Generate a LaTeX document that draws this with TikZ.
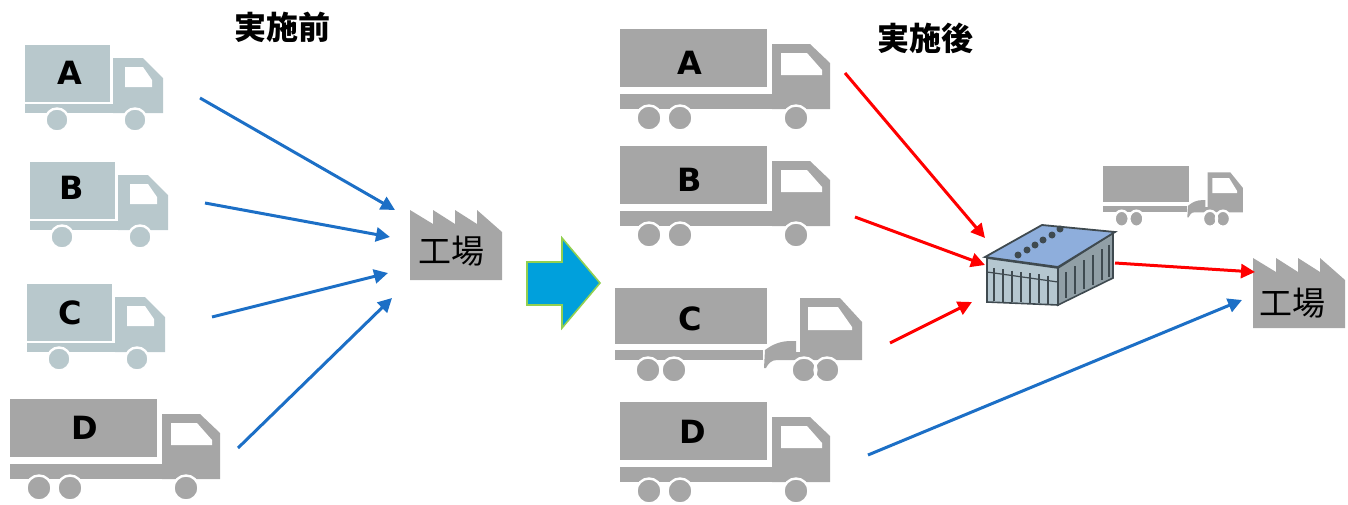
\documentclass[tikz,border=0pt]{standalone}
\usepackage{fontspec}
\setmainfont{DejaVu Sans}
\newfontfamily\jpfont{Noto Sans CJK JP}
\usetikzlibrary{arrows.meta,positioning}
\definecolor{vangray}{HTML}{B8C8CC}
\definecolor{lorrygray}{HTML}{A6A6A6}
\definecolor{flowblue}{HTML}{1C6FC6}
\definecolor{flowred}{HTML}{FF0000}
\definecolor{bigarrow}{HTML}{00A0DC}
\definecolor{bigarrowedge}{HTML}{92D050}
\definecolor{roofblue}{HTML}{8EAEDC}
\definecolor{wallgray}{HTML}{B5C7D0}
\definecolor{walldark}{HTML}{3F4A50}

\tikzset{
  wheel/.style={draw=white, line width=1.2pt},
  % small delivery van
  van/.pic={
    \fill[vangray] (0,0) rectangle (85,57);
    \fill[vangray] (0,59) rectangle (138,68);
    \fill[vangray] (88,13) -- (118,13) -- (138,33) -- (138,68) -- (88,68) -- cycle;
    \fill[white] (100,22) -- (118,22) -- (127,35) -- (127,42) -- (100,42) -- cycle;
    \fill[vangray, wheel] (32,75) circle (11.5) (110,75) circle (11.5);
  },
  % large rigid truck
  lorry/.pic={
    \fill[lorrygray] (0,0) rectangle (147,58);
    \fill[lorrygray] (0,65) rectangle (210,80);
    \fill[lorrygray] (152,15) -- (190,15) -- (210,34) -- (210,80) -- (152,80) -- cycle;
    \fill[white] (161,24) -- (187,24) -- (202,41) -- (202,46) -- (161,46) -- cycle;
    \fill[lorrygray, wheel] (29,89) circle (12.5) (60,89) circle (12.5) (176,89) circle (12.5);
  },
  % tractor with semi-trailer
  tractor/.pic={
    \fill[lorrygray] (0,0) rectangle (152,56);
    \fill[lorrygray] (0,62) rectangle (148,72);
    \fill[lorrygray] (150,62) .. controls (158,56) and (166,53) .. (176,53) -- (181,53)
      -- (181,64) -- (186,64) -- (186,72) -- (162,72) .. controls (156,72) and (153,76) .. (151,80)
      -- (149,80) -- cycle;
    \fill[lorrygray] (185,10) -- (225,10) -- (247,34) -- (247,72) -- (185,72) -- cycle;
    \fill[white] (193,19) -- (223,19) -- (237,39) -- (237,42) -- (193,42) -- cycle;
    \fill[lorrygray, wheel] (33,82) circle (12.5) (59,82) circle (12.5)
      (189,82) circle (12.5) (212,82) circle (12.5);
  },
  % factory outline with saw-tooth roof
  factory/.pic={
    \fill[lorrygray] (0,70) -- (0,0) -- (23,14) -- (23,0) -- (45,14) -- (45,0)
      -- (67,14) -- (67,0) -- (92,22) -- (92,70) -- cycle;
  }
}

\begin{document}
\begin{tikzpicture}[x=0.5pt, y=-0.5pt,
  letter/.style={font=\bfseries\fontsize{16}{16}\selectfont},
  title/.style={font=\jpfont\bfseries\fontsize{16}{16}\selectfont},
  facttext/.style={font=\jpfont\fontsize{16.5}{16.5}\selectfont},
  flow/.style={-{Triangle[length=7pt,width=7pt]}, line width=1.5pt},
  blueflow/.style={flow, flowblue},
  redflow/.style={flow, flowred}
]
  \useasboundingbox (0,0) rectangle (1348,504);

  % Titles
  \node[title] (tBefore) at (282,27) {実施前};
  \node[title] (tAfter) at (925,38) {実施後};

  % Before: four trucks going straight to the plant
  \pic at (25,45) {van};
  \pic at (30,162) {van};
  \pic at (27,284) {van};
  \pic at (10,399) {lorry};
  \node[letter] (bA) at (70,73) {A};
  \node[letter] (bB) at (72,188) {B};
  \node[letter] (bC) at (70,313) {C};
  \node[letter] (bD) at (85,428) {D};

  \pic at (410,210) {factory};
  \node[facttext] (plantL) at (451,251) {工場};

  \coordinate (sA) at (200,98);   \coordinate (eA) at (395,210);
  \coordinate (sB) at (205,203);  \coordinate (eB) at (390,237);
  \coordinate (sC) at (212,317);  \coordinate (eC) at (388,273);
  \coordinate (sD) at (238,448);  \coordinate (eD) at (392,298);
  \draw[blueflow] (sA) -- (eA);
  \draw[blueflow] (sB) -- (eB);
  \draw[blueflow] (sC) -- (eC);
  \draw[blueflow] (sD) -- (eD);

  % Big arrow between the two cases
  \filldraw[fill=bigarrow, draw=bigarrowedge, line width=0.8pt]
    (527,262) -- (562,262) -- (562,238) -- (600,283) -- (562,328) -- (562,305) -- (527,305) -- cycle;

  % After: trucks A-C go through the hub
  \pic at (620,29) {lorry};
  \pic at (620,146) {lorry};
  \pic at (615,288) {tractor};
  \pic at (620,402) {lorry};
  \node[letter] (aA) at (690,63) {A};
  \node[letter] (aB) at (690,180) {B};
  \node[letter] (aC) at (690,319) {C};
  \node[letter] (aD) at (693,432) {D};

  % cross-dock warehouse
  \filldraw[fill=wallgray, draw=walldark, line width=0.8pt]
    (987,258) -- (1058,268) -- (1058,305) -- (987,302) -- cycle;
  \filldraw[fill=wallgray!80!black, draw=walldark, line width=0.8pt]
    (1058,268) -- (1113,233) -- (1113,278) -- (1058,305) -- cycle;
  \foreach \x in {994,1003,1012,1021,1030,1039,1048} {
    \pgfmathsetmacro\yt{258+(\x-987)*10/71+9}
    \pgfmathsetmacro\yb{302+(\x-987)*3/71-1}
    \draw[walldark, line width=0.9pt] (\x,\yt) -- (\x,\yb);
  }
  \draw[walldark, line width=0.6pt] (987,272) -- (1058,282);
  \foreach \x in {1066,1075,1084,1093,1102,1109} {
    \pgfmathsetmacro\yt{268-(\x-1058)*35/55+9}
    \pgfmathsetmacro\yb{305-(\x-1058)*27/55-3}
    \draw[walldark, line width=0.7pt] (\x,\yt) -- (\x,\yb);
  }
  \filldraw[fill=roofblue, draw=walldark, line width=0.9pt]
    (985,257) -- (1042,225) -- (1115,232) -- (1058,267) -- cycle;
  \foreach \p in {(1018,255),(1027,250),(1035,245),(1043,240),(1052,235),(1060,229)}
    \fill[walldark] \p circle (3.5);
  \coordinate (hubA) at (985,238);
  \coordinate (hubB) at (985,265);
  \coordinate (hubC) at (972,302);
  \coordinate (hubOut) at (1115,263);

  % trunk truck between hub and plant
  \pic[xscale=0.566, yscale=0.643] at (1103,166) {tractor};

  \pic at (1253,258) {factory};
  \node[facttext] (plantR) at (1292,303) {工場};

  \coordinate (tA) at (845,73);
  \coordinate (tB) at (855,217);
  \coordinate (tC) at (890,343);
  \coordinate (tD) at (868,455);
  \coordinate (inR) at (1255,272);
  \coordinate (inD) at (1242,300);
  \draw[redflow] (tA) -- (hubA);
  \draw[redflow] (tB) -- (hubB);
  \draw[redflow] (tC) -- (hubC);
  \draw[redflow] (hubOut) -- (inR);
  \draw[blueflow] (tD) -- (inD);
\end{tikzpicture}
\end{document}
